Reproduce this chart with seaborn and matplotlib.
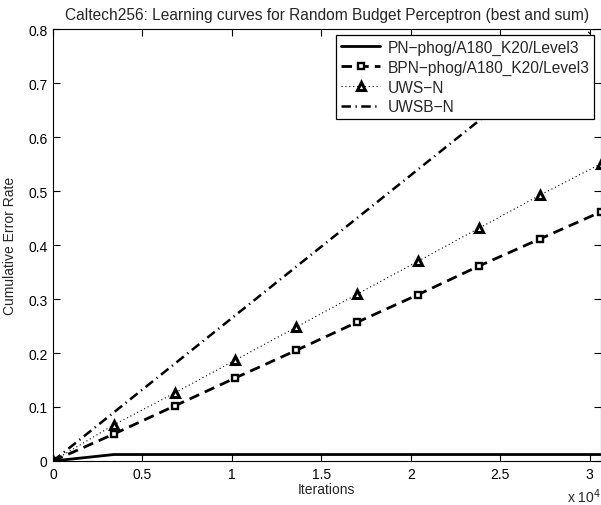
import numpy as np
import pandas as pd
import matplotlib
matplotlib.use("Agg")
import matplotlib.pyplot as plt
import seaborn as sns
from matplotlib.ticker import FixedLocator, FuncFormatter

# ---- data ----
iterations = [0, 3401, 6802, 10202, 13603, 17004, 20405, 23805, 27206, 30607]
pn = [0.0, 0.012, 0.012, 0.012, 0.012, 0.012, 0.012, 0.012, 0.012, 0.012]
bpn = [0.0, 0.050, 0.102, 0.154, 0.205, 0.257, 0.308, 0.361, 0.411, 0.461]
uws = [0.0, 0.067, 0.126, 0.187, 0.248, 0.309, 0.370, 0.431, 0.492, 0.550]
uwsb = [0.0, 0.090, 0.180, 0.270, 0.360, 0.450, 0.540, 0.630, 0.720, 0.810]
labels = ["PN\u2212phog/A180_K20/Level3", "BPN\u2212phog/A180_K20/Level3", "UWS\u2212N", "UWSB\u2212N"]
title = "Caltech256: Learning curves for Random Budget Perceptron (best and sum)"
xticks = [0, 5000, 10000, 15000, 20000, 25000, 30000]
yticks = [0, 0.1, 0.2, 0.3, 0.4, 0.5, 0.6, 0.7, 0.8]

sns.set_style("white")
plt.rcParams['font.family'] = ['Liberation Sans', 'DejaVu Sans']
plt.rcParams['font.size'] = 10

fig = plt.figure(figsize=(6.01, 5.06), dpi=100)
ax = fig.add_axes([53 / 601, 44 / 506, 547.5 / 601, 432 / 506])

df = pd.DataFrame({"it": iterations, "pn": pn, "bpn": bpn, "uws": uws, "uwsb": uwsb})

sns.lineplot(data=df, x="it", y="pn", ax=ax, color="k", linewidth=2.0,
             linestyle="-", label=labels[0])
sns.lineplot(data=df, x="it", y="bpn", ax=ax, color="k", linewidth=2.0,
             dashes=(3.8, 2.2), marker="s", markersize=5, markerfacecolor="white",
             markeredgecolor="k", markeredgewidth=1.7, label=labels[1])
sns.lineplot(data=df, x="it", y="uws", ax=ax, color="k", linewidth=0.8,
             dashes=(1, 2.5), marker="^", markersize=5.5, markerfacecolor="white",
             markeredgecolor="k", markeredgewidth=2.2, label=labels[2])
sns.lineplot(data=df, x="it", y="uwsb", ax=ax, color="k", linewidth=1.8,
             dashes=(3.8, 1.8, 0.5, 1.8), label=labels[3])

ax.set_xlim(0, 30607)
ax.set_ylim(0, 0.8)
ax.xaxis.set_major_locator(FixedLocator(xticks))
ax.yaxis.set_major_locator(FixedLocator(yticks))
ax.xaxis.set_major_formatter(FuncFormatter(lambda v, p: ("%g" % (v / 1e4))))
ax.yaxis.set_major_formatter(FuncFormatter(lambda v, p: ("%g" % round(v, 2))))
ax.tick_params(direction="in", length=5, width=0.8, top=True, right=True,
               bottom=True, left=True, labelsize=10, pad=4, colors="k")
for s in ax.spines.values():
    s.set_color("k")
    s.set_linewidth(0.8)
    s.set_visible(True)

ax.set_xlabel("Iterations", fontsize=10, labelpad=1)
ax.set_ylabel("Cumulative Error Rate", fontsize=10, labelpad=8)
ax.set_title(title, fontsize=11.2, pad=7)
ax.text(1.0, -0.058, "x 10$^4$", transform=ax.transAxes, ha="right", va="top", fontsize=10)

leg = ax.legend(loc="upper right", frameon=True, fancybox=False, edgecolor="k",
                framealpha=1, handlelength=2.5, borderaxespad=0.4, labelspacing=0.3,
                handletextpad=0.5, borderpad=0.3, fontsize=11.2)
leg.get_frame().set_linewidth(0.9)

fig.savefig("out.png", dpi=100)
